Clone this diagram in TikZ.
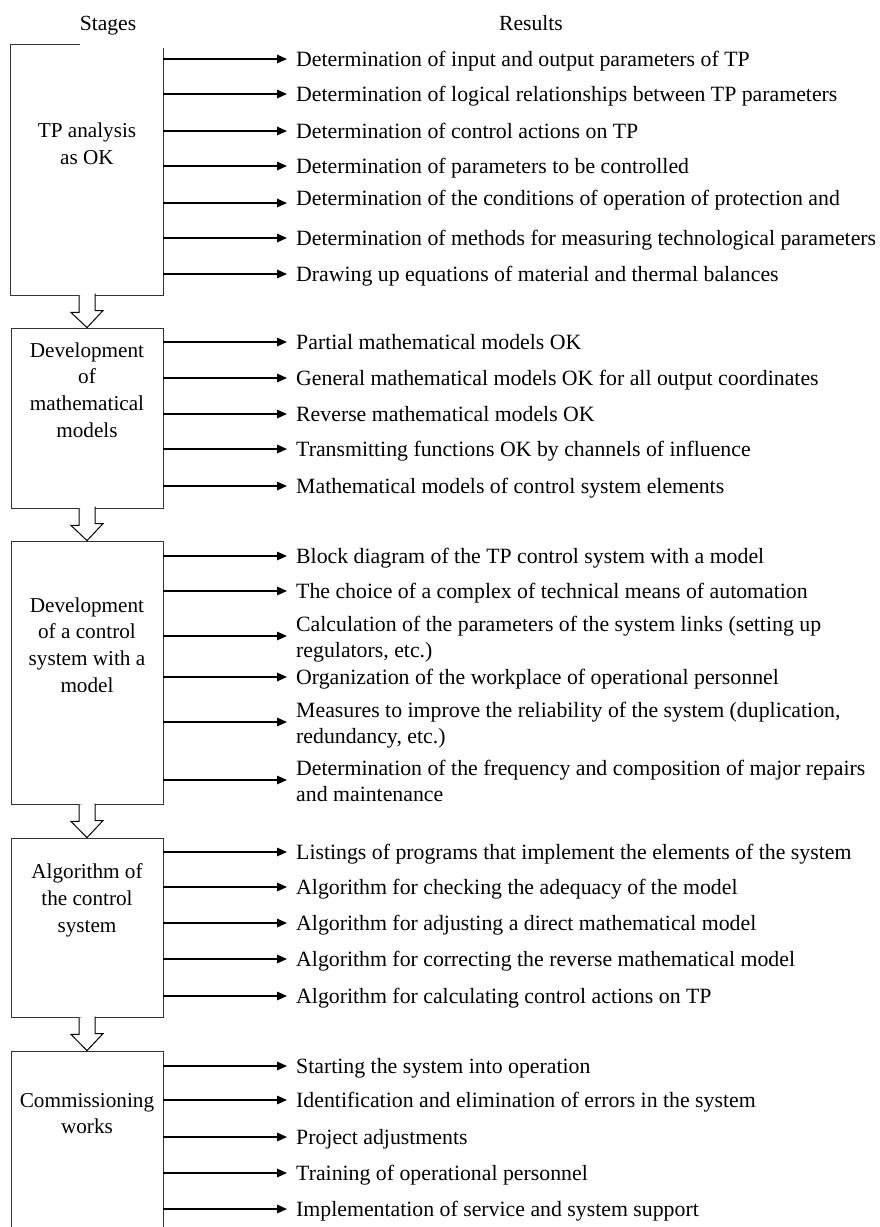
\documentclass[tikz,border=0pt]{standalone}
\usepackage{fontspec}
\setmainfont{Liberation Serif}
\usetikzlibrary{arrows.meta}
\tikzset{
  x=1pt,y=-1pt,
  stagebox/.style={draw=black!80,line width=0.8pt,minimum width=152pt,inner sep=0pt},
  stagelbl/.style={align=center,font=\fontsize{21.2}{26.8}\selectfont,inner sep=0pt},
  resbase/.style={anchor=west,align=left,font=\fontsize{21.8}{26}\selectfont,inner sep=0pt},
  res/.style={resbase,text height=15pt,text depth=1pt},
  restwo/.style={resbase,text height=47pt,text depth=5pt},
  hdr/.style={anchor=base,font=\fontsize{21.6}{26}\selectfont,inner sep=0pt},
  arr/.style={line width=1.6pt,-{Triangle[length=10pt,width=8.5pt]},shorten >=9pt},
  blockarr/.style={draw=black,line width=1pt,fill=white}
}
\begin{document}
\begin{tikzpicture}
\useasboundingbox (0,0) rectangle (880,1227);
% headers
\node[hdr] (hs) at (108,30.5) {Stages};
\node[hdr] (hr) at (531,30.5) {Results};
% stage boxes
\node[stagebox,draw=none,minimum height=250pt] (b1) at (87,170) {};
\draw[black!80,line width=0.8pt] (b1.north east) ++(0,3) -- (b1.south east) -- (b1.south west) -- (b1.north west) -- ++(69,0);
\node[stagebox,minimum height=180pt] (b2) at (87,418) {};
\node[stagebox,minimum height=263pt] (b3) at (87,672.5) {};
\node[stagebox,minimum height=179pt] (b4) at (87,927.5) {};
\node[stagebox,minimum height=200pt] (b5) at (87,1151) {};
% stage labels
\node[stagelbl] (l1) at (87,143.5) {TP analysis\\as OK};
\node[stagelbl] (l2) at (87,390) {Development\\of\\mathematical\\models};
\node[stagelbl] (l3) at (87,645) {Development\\of a control\\system with a\\model};
\node[stagelbl] (l4) at (87,900.5) {Algorithm of\\the control\\system};
\node[stagelbl] (l5) at (87,1113.5) {Commissioning\\works};
% block arrows
\foreach \a/\b in {b1/b2,b2/b3,b3/b4,b4/b5}{
  \draw[blockarr] (\a.south) ++(-8,0) -- ++(0,17) -- ++(-8,0) -- (\b.north) -- ++(16,-17) -- ++(-8,0) -- ++(0,-17);
}
% results
\node[res] (r11) at (296,59) {Determination of input and output parameters of TP};
\node[res] (r12) at (296,94) {Determination of logical relationships between TP parameters};
\node[res] (r13) at (296,131) {Determination of control actions on TP};
\node[res] (r14) at (296,166) {Determination of parameters to be controlled};
\node[res] (r15) at (296,198) {Determination of the conditions of operation of protection and};
\coordinate (r15a) at (296,203);
\node[res] (r16) at (296,238) {Determination of methods for measuring technological parameters};
\node[res] (r17) at (296,274) {Drawing up equations of material and thermal balances};
\node[res] (r21) at (296,342) {Partial mathematical models OK};
\node[res] (r22) at (296,378) {General mathematical models OK for all output coordinates};
\node[res] (r23) at (296,414) {Reverse mathematical models OK};
\node[res] (r24) at (296,449) {Transmitting functions OK by channels of influence};
\node[res] (r25) at (296,486) {Mathematical models of control system elements};
\node[res] (r31) at (296,556) {Block diagram of the TP control system with a model};
\node[res] (r32) at (296,591) {The choice of a complex of technical means of automation};
\node[restwo] (r33) at (296,636) {Calculation of the parameters of the system links (setting up\\regulators, etc.)};
\node[res] (r34) at (296,677) {Organization of the workplace of operational personnel};
\node[restwo] (r35) at (296,722) {Measures to improve the reliability of the system (duplication,\\redundancy, etc.)};
\node[restwo] (r36) at (296,780) {Determination of the frequency and composition of major repairs\\and maintenance};
\node[res] (r41) at (296,852) {Listings of programs that implement the elements of the system};
\node[res] (r42) at (296,887) {Algorithm for checking the adequacy of the model};
\node[res] (r43) at (296,923) {Algorithm for adjusting a direct mathematical model};
\node[res] (r44) at (296,959) {Algorithm for correcting the reverse mathematical model};
\node[res] (r45) at (296,996) {Algorithm for calculating control actions on TP};
\node[res] (r51) at (296,1066) {Starting the system into operation};
\node[res] (r52) at (296,1100) {Identification and elimination of errors in the system};
\node[res] (r53) at (296,1137) {Project adjustments};
\node[res] (r54) at (296,1173) {Training of operational personnel};
\node[res] (r55) at (296,1209) {Implementation of service and system support};
% connectors
\foreach \r in {r11,r12,r13,r14,r16,r17}{\draw[arr] (b1.east |- \r.west) -- (\r.west);}
\draw[arr] (b1.east |- r15a) -- (r15a);
\foreach \r in {r21,r22,r23,r24,r25}{\draw[arr] (b2.east |- \r.west) -- (\r.west);}
\foreach \r in {r31,r32,r33,r34,r35,r36}{\draw[arr] (b3.east |- \r.west) -- (\r.west);}
\foreach \r in {r41,r42,r43,r44,r45}{\draw[arr] (b4.east |- \r.west) -- (\r.west);}
\foreach \r in {r51,r52,r53,r54,r55}{\draw[arr] (b5.east |- \r.west) -- (\r.west);}
\end{tikzpicture}
\end{document}
